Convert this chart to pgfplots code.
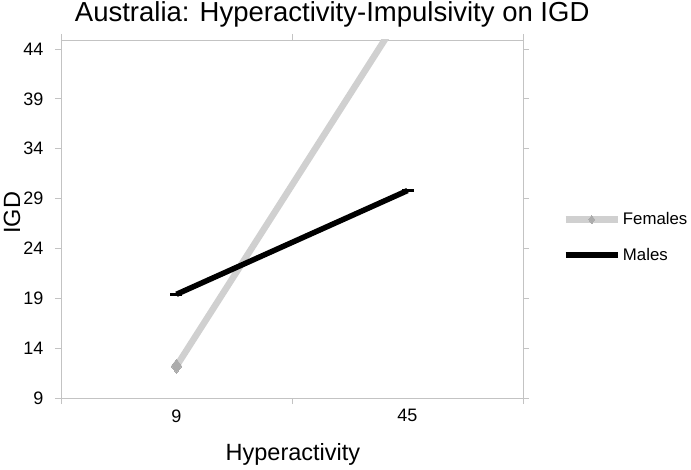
\documentclass[border=0pt]{standalone}
\usepackage{fontspec}
\setmainfont{Liberation Sans}
\usepackage{pgfplots}
\pgfplotsset{compat=1.18}
\definecolor{fem}{RGB}{208,208,208}
\definecolor{femmark}{RGB}{172,172,172}
\definecolor{axgray}{RGB}{195,195,195}
\begin{document}
\begin{tikzpicture}
\useasboundingbox (-61pt,-71pt) rectangle (630pt,398pt);
\begin{axis}[
  at={(0pt,0pt)}, anchor=south west,
  scale only axis, width=462pt, height=358pt,
  xmin=-0.5, xmax=1.5, ymin=9, ymax=44.9,
  xtick={0,1}, xticklabels={9,45},
  minor xtick={-0.5,0.5,1.5},
  ytick={9,14,...,44},
  major x tick style={draw=none},
  minor x tick style={axgray, line width=0.8pt},
  minor tick length=6pt,
  y tick style={axgray, line width=0.8pt},
  major tick length=6pt,
  tick align=outside,
  axis line style={axgray, line width=0.8pt},
  tick label style={font=\fontsize{18}{20}\selectfont},
  /pgf/number format/assume math mode=true,
  xticklabel style={yshift=-2pt},
  yticklabel style={xshift=-8pt},
  xlabel={Hyperactivity}, ylabel={IGD},
  xlabel style={font=\fontsize{23.5}{26}\selectfont, at={(axis description cs:0.502,0)}, anchor=center, yshift=-56pt},
  ylabel style={font=\fontsize{23.5}{26}\selectfont, at={(axis description cs:-0.106,0.517)}, anchor=center},
  title={Australia: Hyperactivity-Impulsivity on IGD},
  title style={font=\fontsize{27.5}{30}\selectfont, at={(axis description cs:0.587,1)}, anchor=base, yshift=12pt},
  legend style={draw=none, fill=none, at={(1.085,0.449)}, anchor=west,
    font=\fontsize{16.8}{19}\selectfont, row sep=18pt, inner sep=0pt},
  legend cell align=left,
  legend image code/.code={\draw[#1,mark repeat=2,mark phase=2,mark size=4pt] plot coordinates {(0pt,0pt) (26pt,0pt) (52pt,0pt)};},
]
\addplot[fem, line width=6.5pt, mark=diamond*, mark size=7pt,
  mark options={fill=femmark, draw=femmark, line width=0pt}] coordinates {(0,12.2) (1,48.5)};
\addlegendentry{Females}
\addplot[black, line width=5.5pt, mark=-, mark size=6pt,
  mark options={line width=3pt}] coordinates {(0,19.4) (1,29.8)};
\addlegendentry{Males}
\end{axis}
\end{tikzpicture}
\end{document}
